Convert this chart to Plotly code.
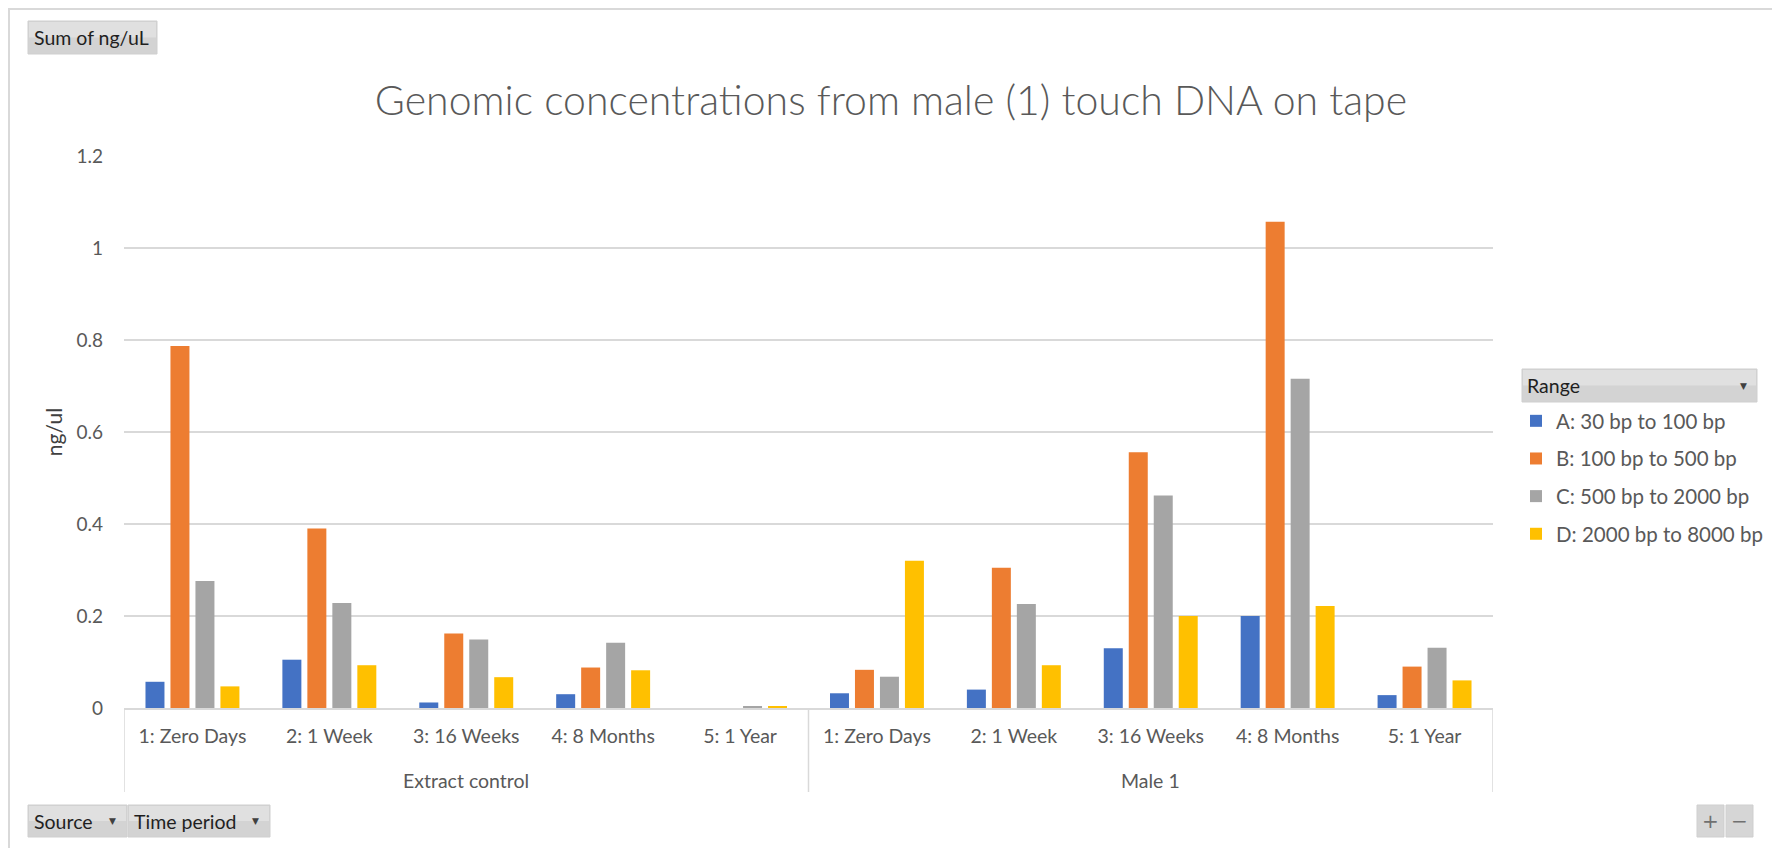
import plotly.graph_objects as go

# ---------------- data ----------------
sources = ["Extract control", "Male 1"]
periods = ["1: Zero Days", "2: 1 Week", "3: 16 Weeks", "4: 8 Months", "5: 1 Year"]
series_names = ["A: 30 bp to 100 bp", "B: 100 bp to 500 bp",
                "C: 500 bp to 2000 bp", "D: 2000 bp to 8000 bp"]

# values per series: Extract control (5 periods) then Male 1 (5 periods)
range_a = [0.057, 0.105, 0.012, 0.030, 0.0, 0.032, 0.040, 0.130, 0.200, 0.028]
range_b = [0.787, 0.390, 0.162, 0.088, 0.0, 0.083, 0.305, 0.556, 1.057, 0.090]
range_c = [0.276, 0.228, 0.149, 0.142, 0.004, 0.068, 0.226, 0.462, 0.716, 0.131]
range_d = [0.047, 0.093, 0.067, 0.082, 0.003, 0.320, 0.093, 0.200, 0.222, 0.060]

colors = ["#4472C4", "#ED7D31", "#A5A5A5", "#FFC000"]

# ---------------- layout geometry (page pixels) ----------------
OFF = 8                      # default body margin of the html page
W, H = 1780 - OFF, 848 - OFF
L, R, T, B = 124, 1493, 156, 708   # plot area in page pixels
FONT = "Lato"
GREY = "#595959"


def px(x):
    return (x - L) / (R - L)


def py(y):
    return (B - y) / (B - T)


keys = [s + " | " + p for s in sources for p in periods]
labels = [p for _ in sources for p in periods]

fig = go.Figure()
for name, vals, col in zip(series_names, [range_a, range_b, range_c, range_d], colors):
    fig.add_trace(go.Bar(x=keys, y=vals, name=name, marker_color=col,
                         marker_line_width=0, legendgroup=name))

fig.update_layout(
    width=W, height=H,
    margin=dict(l=L - OFF, r=(W + OFF) - R, t=T - OFF, b=(H + OFF) - B, pad=0,
                autoexpand=False),
    paper_bgcolor="white", plot_bgcolor="white",
    font=dict(family=FONT, color=GREY, size=19),
    barmode="group", bargap=0.27, bargroupgap=0.24,
    title=dict(text="Genomic concentrations from male (1) touch DNA on tape",
               x=px(891), xref="paper", xanchor="center",
               y=1 - (101 - OFF) / H, yanchor="middle",
               font=dict(family=FONT, size=41, color=GREY, weight=300)),
    showlegend=True,
    legend=dict(x=px(1516), xanchor="left", y=py(401), yanchor="top",
                font=dict(family=FONT, size=20.5, color=GREY),
                tracegroupgap=8, itemwidth=30, bgcolor="rgba(0,0,0,0)"),
)

fig.update_yaxes(range=[0, 1.2], dtick=0.2, showgrid=True, gridcolor="#D9D9D9",
                 gridwidth=1.5, zeroline=False, showline=False, automargin=False,
                 tickfont=dict(family=FONT, size=19, color=GREY),
                 ticklabelstandoff=20,
                 title=dict(text="ng/ul", font=dict(family=FONT, size=21, color="#404040"),
                            standoff=8))
fig.update_xaxes(type="category", categoryorder="array", categoryarray=keys,
                 tickvals=keys, ticktext=labels, range=[-0.5, len(keys) - 0.5],
                 showline=True, linecolor="#D9D9D9", linewidth=1.5, showgrid=False,
                 tickfont=dict(family=FONT, size=19.5, color=GREY),
                 ticks="", ticklabelstandoff=10, automargin=False)

shapes = []
annotations = []

# category-group dividers and group labels (in category index units)
n = len(periods)
for i in range(len(sources) + 1):
    shapes.append(dict(type="line", xref="x", yref="paper", x0=i * n - 0.5, x1=i * n - 0.5,
                       y0=0, y1=py(792), line=dict(color="#D9D9D9", width=1.5)))
for i, s in enumerate(sources):
    annotations.append(dict(text=s, xref="x", yref="paper", x=i * n + (n - 1) / 2,
                            xanchor="center", y=py(780), yanchor="middle", showarrow=False,
                            font=dict(family=FONT, size=19.5, color=GREY)))

# outer border
shapes.append(dict(type="rect", xref="paper", yref="paper",
                   x0=px(OFF + 1), x1=px(1773), y0=py(870), y1=py(OFF + 1),
                   line=dict(color="#D9D9D9", width=2), fillcolor="rgba(0,0,0,0)", layer="below"))


def button(x0, x1, y0, y1, text, tx, arrow_x=None):
    shapes.append(dict(type="rect", xref="paper", yref="paper",
                       x0=px(x0), x1=px(x1), y0=py(y1), y1=py(y0),
                       line=dict(color="#CFCFCF", width=1), fillcolor="#D3D3D3"))
    shapes.append(dict(type="rect", xref="paper", yref="paper",
                       x0=px(x0 + 1), x1=px(x1 - 1), y0=py((y0 + y1) / 2), y1=py(y0 + 1),
                       line=dict(width=0), fillcolor="#E0E0E0"))
    annotations.append(dict(text=text, xref="paper", yref="paper", x=px(tx), xanchor="left",
                            y=py((y0 + y1) / 2), yanchor="middle", showarrow=False,
                            font=dict(family=FONT, size=19.5, color="#1F1F1F")))
    if arrow_x is not None:
        annotations.append(dict(text="▼", xref="paper", yref="paper", x=px(arrow_x),
                                xanchor="center", y=py((y0 + y1) / 2), yanchor="middle",
                                showarrow=False, font=dict(family="DejaVu Sans", size=9,
                                                           color="#404040")))


button(28, 157, 21, 54, "Sum of ng/uL", 32)
button(28, 127, 805, 837, "Source", 32, 112)
button(128, 270, 805, 837, "Time period", 132, 255)
button(1522, 1757, 369, 402, "Range", 1525, 1743)

# +/- buttons
for (x0, x1, sym) in [(1697, 1724, "+"), (1726, 1753, "−")]:
    shapes.append(dict(type="rect", xref="paper", yref="paper",
                       x0=px(x0), x1=px(x1), y0=py(837), y1=py(805),
                       line=dict(color="#CFCFCF", width=1), fillcolor="#D6D6D6"))
    annotations.append(dict(text=sym, xref="paper", yref="paper", x=px((x0 + x1) / 2),
                            xanchor="center", y=py(821), yanchor="middle", showarrow=False,
                            font=dict(family="DejaVu Sans", size=20, color="#707070")))

fig.update_layout(shapes=shapes, annotations=annotations)

fig.write_html("out.html")
